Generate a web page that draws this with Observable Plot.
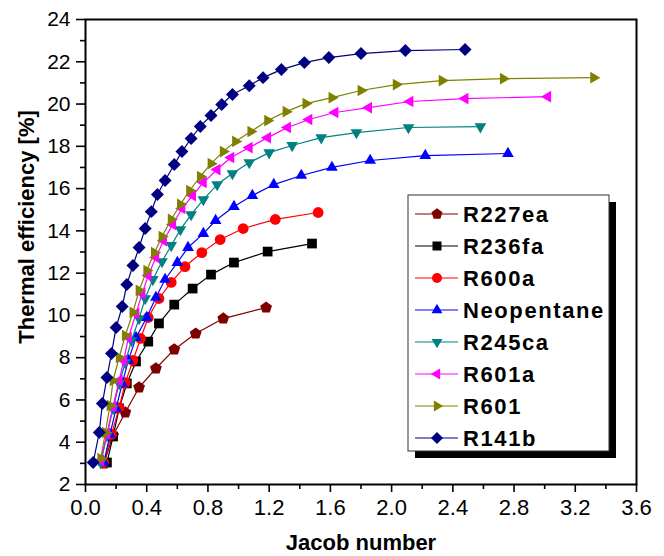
<!DOCTYPE html>
<html><head><meta charset="utf-8">
<script src="https://cdn.jsdelivr.net/npm/d3@7"></script>
<script src="https://cdn.jsdelivr.net/npm/@observablehq/plot@0.6"></script>
<style>
body{margin:0;background:#fff;}
#chart{width:664px;height:556px;}
</style></head><body><div id="chart"></div>
<script>
// ---- data ----
const seriesNames = ["R227ea","R236fa","R600a","Neopentane","R245ca","R601a","R601","R141b"];
const seriesColors = ["#800000","#000000","#ff0000","#0000ff","#008080","#ff00ff","#808000","#000080"];
const xTicks = [0,0.4,0.8,1.2,1.6,2.0,2.4,2.8,3.2,3.6];
const xMinor = [0.2,0.6,1.0,1.4,1.8,2.2,2.6,3.0,3.4];
const yTicks = [2,4,6,8,10,12,14,16,18,20,22,24];
const yMinor = [3,5,7,9,11,13,15,17,19,21,23];

const xR227ea = [0.12,0.18,0.26,0.35,0.46,0.58,0.72,0.90,1.18];
const yR227ea = [2.99,4.32,5.41,6.59,7.49,8.39,9.14,9.85,10.37];
const xR236fa = [0.14,0.18,0.22,0.27,0.33,0.41,0.48,0.58,0.70,0.82,0.97,1.19,1.48];
const yR236fa = [3.04,4.27,5.60,6.78,7.82,8.76,9.62,10.51,11.27,11.93,12.50,13.02,13.40];
const xR600a = [0.12,0.17,0.22,0.26,0.31,0.36,0.41,0.48,0.56,0.65,0.76,0.88,1.03,1.24,1.52];
const yR600a = [3.04,4.37,5.64,6.82,7.87,8.91,9.90,10.80,11.56,12.31,12.97,13.59,14.11,14.54,14.87];
const xNeo = [0.12,0.16,0.20,0.24,0.28,0.33,0.40,0.46,0.52,0.60,0.67,0.77,0.85,0.97,1.09,1.23,1.41,1.61,1.86,2.22,2.76];
const yNeo = [3.04,4.37,5.60,6.78,7.87,8.95,9.90,10.85,11.70,12.50,13.21,13.87,14.49,15.15,15.67,16.19,16.62,17.00,17.33,17.56,17.66];
const xR245ca = [0.10,0.14,0.18,0.22,0.26,0.30,0.35,0.39,0.44,0.50,0.56,0.62,0.69,0.77,0.86,0.96,1.07,1.20,1.35,1.54,1.77,2.11,2.58];
const yR245ca = [3.04,4.32,5.60,6.78,7.77,8.81,9.85,10.80,11.70,12.55,13.31,14.06,14.77,15.48,16.19,16.71,17.23,17.70,18.04,18.41,18.65,18.89,18.93];
const xR601a = [0.10,0.14,0.18,0.22,0.25,0.28,0.33,0.37,0.41,0.46,0.51,0.57,0.63,0.70,0.77,0.86,0.95,1.07,1.19,1.32,1.46,1.63,1.85,2.12,2.48,3.02];
const yR601a = [3.14,4.41,5.69,6.92,7.87,8.95,10.09,11.04,11.89,12.74,13.54,14.30,15.06,15.67,16.29,16.90,17.47,17.94,18.41,18.89,19.27,19.60,19.83,20.12,20.26,20.35];
const xR601 = [0.10,0.13,0.16,0.18,0.22,0.26,0.31,0.35,0.40,0.45,0.50,0.56,0.62,0.68,0.75,0.82,0.90,0.98,1.08,1.19,1.31,1.44,1.61,1.80,2.03,2.33,2.73,3.32];
const yR601 = [3.23,4.46,5.74,6.92,8.01,9.05,10.14,11.18,12.12,12.97,13.73,14.54,15.25,15.91,16.57,17.18,17.75,18.23,18.70,19.22,19.64,20.02,20.30,20.64,20.92,21.11,21.20,21.25];
const xR141b = [0.05,0.09,0.11,0.14,0.17,0.20,0.24,0.27,0.31,0.35,0.39,0.43,0.47,0.52,0.58,0.63,0.69,0.75,0.82,0.89,0.96,1.07,1.16,1.28,1.43,1.59,1.80,2.09,2.48];
const yR141b = [3.04,4.46,5.83,7.06,8.20,9.43,10.42,11.46,12.36,13.21,14.11,14.91,15.72,16.38,17.14,17.75,18.37,18.94,19.46,19.98,20.45,20.87,21.25,21.63,21.96,22.20,22.39,22.53,22.58];

const seriesX = [xR227ea,xR236fa,xR600a,xNeo,xR245ca,xR601a,xR601,xR141b];
const seriesY = [yR227ea,yR236fa,yR600a,yNeo,yR245ca,yR601a,yR601,yR141b];

// ---- custom marker shapes ----
function poly(ctx, pts){ ctx.moveTo(pts[0][0],pts[0][1]); for(let i=1;i<pts.length;i++) ctx.lineTo(pts[i][0],pts[i][1]); ctx.closePath(); }
const mk = f => ({draw(ctx,size){ const r=Math.sqrt(size/Math.PI); f(ctx,r); }});
const symPentagon = mk((c,r)=>{const R=r*1.15; poly(c,d3.range(5).map(i=>{const a=-Math.PI/2+i*2*Math.PI/5;return [R*Math.cos(a),R*Math.sin(a)];}));});
const symSquare = mk((c,r)=>{const h=r*0.9; poly(c,[[-h,-h],[h,-h],[h,h],[-h,h]]);});
const symCircle = mk((c,r)=>{c.moveTo(r,0); c.arc(0,0,r,0,2*Math.PI);});
const symUp = mk((c,r)=>{const R=r*1.25; poly(c,[[0,-R],[R*0.866,R*0.5],[-R*0.866,R*0.5]]);});
const symDown = mk((c,r)=>{const R=r*1.25; poly(c,[[0,R],[R*0.866,-R*0.5],[-R*0.866,-R*0.5]]);});
const symLeft = mk((c,r)=>{const R=r*1.25; poly(c,[[-R,0],[R*0.5,-R*0.866],[R*0.5,R*0.866]]);});
const symRight = mk((c,r)=>{const R=r*1.25; poly(c,[[R,0],[-R*0.5,-R*0.866],[-R*0.5,R*0.866]]);});
const symDiamond = mk((c,r)=>{const R=r*1.2; poly(c,[[0,-R],[R,0],[0,R],[-R,0]]);});
const seriesSymbols = [symPentagon,symSquare,symCircle,symUp,symDown,symLeft,symRight,symDiamond];

const FONT = "'Liberation Sans', Arial, Helvetica, sans-serif";

const marks = [];
seriesNames.forEach((name,i)=>{
  const rows = seriesX[i].map((x,j)=>({x, y: seriesY[i][j]}));
  marks.push(Plot.line(rows,{x:"x",y:"y",stroke:seriesColors[i],strokeWidth:1.2}));
  marks.push(Plot.dot(rows,{x:"x",y:"y",fill:seriesColors[i],stroke:"none",r:5.4,symbol:seriesSymbols[i]}));
});

const plot = Plot.plot({
  width: 664, height: 556,
  marginLeft: 85, marginRight: 28, marginTop: 19, marginBottom: 72,
  style: {fontFamily: FONT, fontSize: "22px", color: "#000", background: "#fff"},
  x: {domain: [0,3.6]},
  y: {domain: [2,24]},
  marks: [
    Plot.axisX(xTicks,{tickSize:8, tickPadding:7, tickFormat:d3.format(".1f"), label:null, strokeWidth:1.6, fontSize:22}),
    Plot.axisX(xMinor,{tickSize:5, tickFormat:()=>"", label:null, strokeWidth:1.6}),
    Plot.axisY(yTicks,{tickSize:9, tickPadding:6, tickFormat:d3.format("d"), label:null, strokeWidth:1.6, fontSize:21}),
    Plot.axisY(yMinor,{tickSize:5, tickFormat:()=>"", label:null, strokeWidth:1.6}),
    ...marks,
    Plot.frame({stroke:"#000", strokeWidth:2}),
    Plot.text(["Jacob number"],{frameAnchor:"bottom", text:d=>d, dy:58, lineAnchor:"middle", fontWeight:"bold", fontSize:22}),
    Plot.text(["Thermal efficiency [%]"],{frameAnchor:"left", text:d=>d, rotate:-90, textAnchor:"middle", lineAnchor:"middle", dx:-59, dy:-25, fontWeight:"bold", fontSize:22})
  ]
});
document.getElementById("chart").appendChild(plot);

// ---- legend (drawn inside the plot area) ----
const svg = d3.select(plot);
const lg = svg.append("g");
const bx = 408, by = 195, bw = 201, bh = 256;
lg.append("rect").attr("x",bx+7).attr("y",by+7).attr("width",bw).attr("height",bh).attr("fill","#000");
lg.append("rect").attr("x",bx).attr("y",by).attr("width",bw).attr("height",bh).attr("fill","#fff").attr("stroke","#333").attr("stroke-width",1);
seriesNames.forEach((name,i)=>{
  const cy = by + 19 + i*32;
  lg.append("line").attr("x1",bx+7).attr("x2",bx+50).attr("y1",cy).attr("y2",cy).attr("stroke",seriesColors[i]).attr("stroke-width",1.2);
  lg.append("path").attr("d",d3.symbol(seriesSymbols[i], 25*Math.PI)()).attr("transform",`translate(${bx+29},${cy})`).attr("fill",seriesColors[i]);
  lg.append("text").attr("x",bx+55).attr("y",cy).attr("dy","0.36em").attr("text-anchor","start").attr("font-family",FONT).attr("font-size",22).attr("font-weight","bold").attr("letter-spacing","1.6px").attr("fill","#000").text(name);
});
</script></body></html>
